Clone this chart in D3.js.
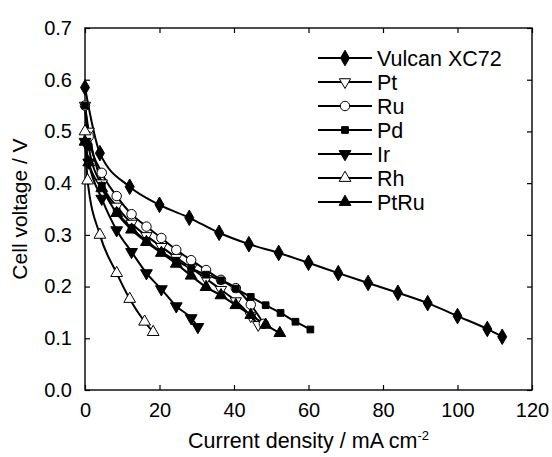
<!DOCTYPE html>
<html><head><meta charset="utf-8">
<script src="https://cdn.jsdelivr.net/npm/d3@7"></script>
<style>body{margin:0;background:#fff}svg{display:block}text{font-family:"Liberation Sans",Arial,sans-serif;fill:#000}</style>
</head><body><svg id="c" width="552" height="457"></svg>
<script>
const seriesNames = ["Vulcan XC72","Pt","Ru","Pd","Ir","Rh","PtRu"];
const vulcanX = [0,4,12,20,28,36,44,52,60,68,76,84,92,100,108,112];
const vulcanY = [0.585,0.458,0.393,0.358,0.333,0.304,0.282,0.265,0.246,0.226,0.207,0.188,0.168,0.143,0.118,0.103];
const ptX = [0,1,4.5,8.5,12.5,16.5,20.5,24.5,28.5,32.5,36.5,40.5,44.5,46.5];
const ptY = [0.55,0.50,0.40,0.355,0.322,0.298,0.277,0.256,0.236,0.215,0.194,0.172,0.143,0.126];
const ruX = [0,1,4.5,8.5,12.5,16.5,20.5,24.5,28.5,32.5,36.5,40.5,44.5,48];
const ruY = [0.55,0.49,0.42,0.375,0.34,0.316,0.294,0.271,0.251,0.232,0.213,0.197,0.165,0.128];
const pdX = [0,1,4.5,8.5,12.5,16.5,20.5,24.5,28.5,32.5,36.5,40.5,44.5,48.5,52.5,56.5,60.5];
const pdY = [0.55,0.47,0.395,0.345,0.313,0.288,0.267,0.25,0.235,0.223,0.212,0.196,0.18,0.164,0.149,0.132,0.117];
const irX = [0,1,4.5,8.5,12.5,16.5,20.5,24.5,28.5,30.3];
const irY = [0.48,0.44,0.37,0.309,0.267,0.226,0.195,0.162,0.139,0.122];
const rhX = [0,0.7,4,8.5,12,16,18.3];
const rhY = [0.50,0.405,0.30,0.226,0.176,0.132,0.112];
const ptruX = [0,1,4.5,8.5,12.5,16.5,20.5,24.5,28.5,32.5,36.5,40.5,44.5,48.5,52.3];
const ptruY = [0.48,0.44,0.39,0.342,0.31,0.286,0.265,0.244,0.221,0.199,0.183,0.164,0.145,0.126,0.110];
const xTicks = [0,20,40,60,80,100,120];
const yTicks = [0,0.1,0.2,0.3,0.4,0.5,0.6,0.7];

const series = [
  {name:seriesNames[0], xs:vulcanX, ys:vulcanY, sym:d3.symbolDiamond, size:70, fill:"#000", rot:0},
  {name:seriesNames[1], xs:ptX, ys:ptY, sym:d3.symbolTriangle, size:55, fill:"#fff", rot:180},
  {name:seriesNames[2], xs:ruX, ys:ruY, sym:d3.symbolCircle, size:70, fill:"#fff", rot:0},
  {name:seriesNames[3], xs:pdX, ys:pdY, sym:d3.symbolSquare, size:45, fill:"#000", rot:0},
  {name:seriesNames[4], xs:irX, ys:irY, sym:d3.symbolTriangle, size:60, fill:"#000", rot:180},
  {name:seriesNames[5], xs:rhX, ys:rhY, sym:d3.symbolTriangle, size:60, fill:"#fff", rot:0},
  {name:seriesNames[6], xs:ptruX, ys:ptruY, sym:d3.symbolTriangle, size:60, fill:"#000", rot:0}
];

const L=85,R=532,T=28,B=390;
const svg=d3.select("#c");
const x=d3.scaleLinear().domain([0,120]).range([L,R]);
const y=d3.scaleLinear().domain([0,0.7]).range([B,T]);

svg.append("rect").attr("x",L).attr("y",T).attr("width",R-L).attr("height",B-T)
  .attr("fill","none").attr("stroke","#000").attr("stroke-width",1.4);

const fs=20;
const ax=svg.append("g").attr("transform",`translate(0,${B})`).call(d3.axisBottom(x).tickValues(xTicks).tickSize(-5).tickPadding(13).tickFormat(d3.format("d")));
const ay=svg.append("g").attr("transform",`translate(${L},0)`).call(d3.axisLeft(y).tickValues(yTicks).tickSize(-5).tickPadding(13).tickFormat(d3.format(".1f")));
const axt=svg.append("g").attr("transform",`translate(0,${T})`).call(d3.axisTop(x).tickValues(xTicks).tickSize(-5).tickFormat(""));
const ayr=svg.append("g").attr("transform",`translate(${R},0)`).call(d3.axisRight(y).tickValues(yTicks).tickSize(-5).tickFormat(""));
[ax,ay,axt,ayr].forEach(g=>{g.select(".domain").remove();g.selectAll("line").attr("stroke","#000").attr("stroke-width",1.2);g.selectAll("text").attr("font-size",fs).attr("font-family","Liberation Sans, Arial, sans-serif");});

svg.append("text").attr("x",(L+R)/2).attr("y",448).attr("text-anchor","middle").attr("font-size",21.5)
  .html('Current density / mA cm<tspan dy="-8" font-size="13">-2</tspan>');
svg.append("text").attr("transform",`translate(27,${(T+B)/2}) rotate(-90)`).attr("text-anchor","middle").attr("font-size",21).text("Cell voltage / V");

const line=d3.line().x(d=>x(d[0])).y(d=>y(d[1])).curve(d3.curveMonotoneX);
const plot=svg.append("g");
series.forEach(s=>{
  const pts=s.xs.map((v,i)=>[v,s.ys[i]]);
  plot.append("path").attr("d",line(pts)).attr("fill","none").attr("stroke","#000").attr("stroke-width",2);
});
series.forEach(s=>{
  const pts=s.xs.map((v,i)=>[v,s.ys[i]]);
  plot.selectAll(null).data(pts).enter().append("path")
    .attr("d",d3.symbol().type(s.sym).size(s.size))
    .attr("transform",d=>`translate(${x(d[0])},${y(d[1])}) rotate(${s.rot})`)
    .attr("fill",s.fill).attr("stroke","#000").attr("stroke-width",1);
});

const lg=svg.append("g");
series.forEach((s,i)=>{
  const yy=58+i*24;
  lg.append("line").attr("x1",318).attr("x2",372).attr("y1",yy).attr("y2",yy).attr("stroke","#000").attr("stroke-width",2);
  lg.append("path").attr("d",d3.symbol().type(s.sym).size(s.size)).attr("transform",`translate(345,${yy}) rotate(${s.rot})`)
    .attr("fill",s.fill).attr("stroke","#000").attr("stroke-width",1);
  lg.append("text").attr("x",377).attr("y",yy).attr("dy","0.36em").attr("font-size",21.5).text(s.name);
});
</script></body></html>
